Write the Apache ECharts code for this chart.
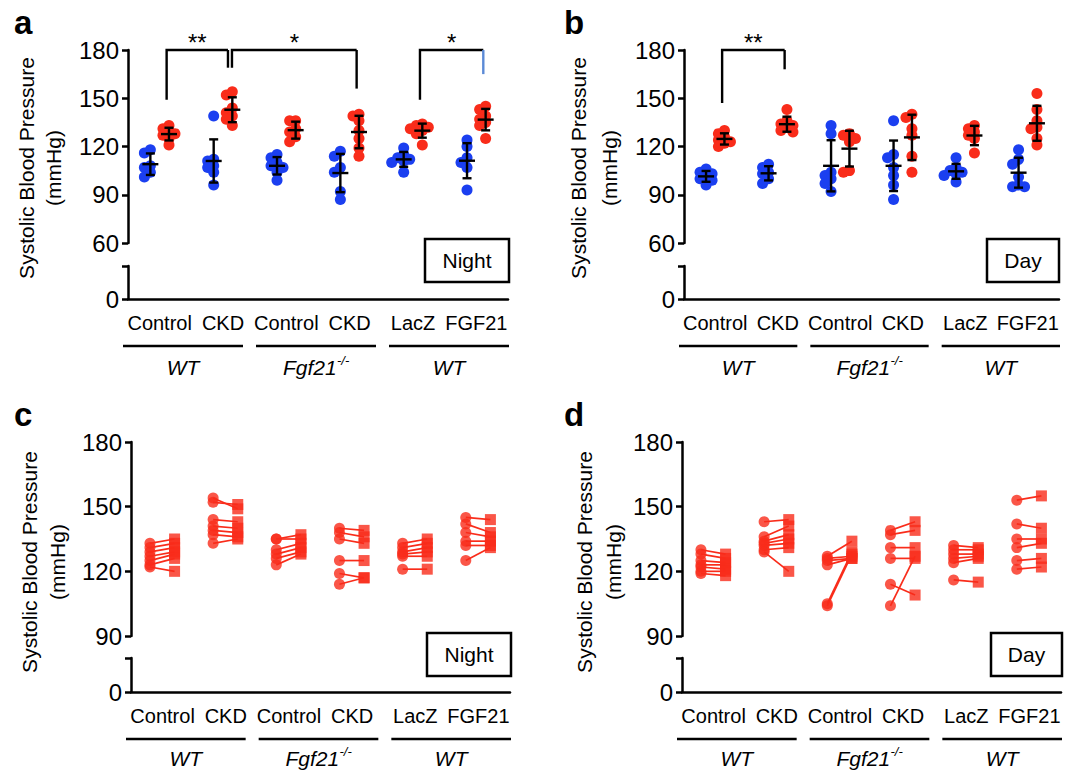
<!DOCTYPE html>
<html>
<head>
<meta charset="utf-8">
<title>Systolic blood pressure</title>
<script src="https://cdn.jsdelivr.net/npm/echarts@6.0.0/dist/echarts.min.js"></script>
<style>
  html, body { margin: 0; padding: 0; background: #fff; }
  #chart { width: 1084px; height: 771px; }
</style>
</head>
<body>
<div id="chart"></div>
<script>
// categories and group labels
const categories = ['Control', 'CKD', 'Control', 'CKD', 'LacZ', 'FGF21'];
const genotypes = ['WT', 'Fgf21', 'WT'];
const yTicksAB = [60, 90, 120, 150, 180];
const yTicksCD = [90, 120, 150, 180];

// panel a (night) - blue / red dots per category
const nightBlue = [
  [118, 116, 108, 107, 104, 101],
  [139, 112, 111, 108, 107, 104, 96],
  [115, 113, 110, 108, 107, 104, 99],
  [117, 114, 107, 104, 92, 87],
  [119, 115, 113, 112, 111, 110, 104],
  [124, 120, 113, 110, 107, 93]
];
const nightRed = [
  [133, 131, 129, 128, 127, 125, 121],
  [154, 152, 144, 141, 139, 137, 133],
  [136, 136, 131, 129, 126, 123],
  [140, 139, 136, 130, 125, 119, 114],
  [134, 133, 132, 131, 130, 128, 121],
  [145, 143, 139, 137, 135, 133, 125]
];

// panel b (day)
const dayBlue = [
  [106, 104, 103, 102, 100, 99, 96],
  [109, 107, 104, 103, 100, 97],
  [133, 128, 104, 102, 100, 97, 92],
  [136, 115, 113, 107, 102, 96, 87],
  [113, 107, 105, 104, 103, 102, 98],
  [118, 112, 109, 101, 96, 95, 95]
];
const dayRed = [
  [130, 128, 126, 124, 123, 122, 120],
  [143, 136, 134, 133, 132, 130, 129],
  [128, 127, 125, 123, 105, 104],
  [140, 138, 131, 127, 114, 104],
  [133, 131, 129, 127, 125, 116],
  [153, 143, 136, 132, 131, 125, 121]
];

// panel c (night) - paired values, circle -> square
const nightBefore = [
  [133, 131, 129, 127, 125, 123, 122],
  [154, 152, 144, 141, 139, 137, 133],
  [135, 135, 130, 128, 126, 123],
  [140, 138, 135, 125, 119, 114],
  [133, 131, 129, 128, 127, 121],
  [145, 142, 138, 134, 132, 125]
];
const nightAfter = [
  [135, 133, 131, 129, 128, 126, 120],
  [149, 151, 143, 140, 138, 136, 135],
  [137, 135, 133, 131, 129, 128],
  [139, 136, 133, 125, 117, 117],
  [135, 133, 131, 129, 127, 121],
  [144, 138, 136, 134, 132, 131]
];

// panel d (day)
const dayBefore = [
  [130, 128, 125, 123, 122, 120, 119],
  [143, 136, 134, 133, 132, 130, 129],
  [127, 126, 125, 123, 105, 104],
  [139, 137, 131, 126, 114, 104],
  [132, 130, 128, 126, 124, 116],
  [153, 142, 135, 131, 125, 121]
];
const dayAfter = [
  [128, 126, 124, 123, 121, 120, 118],
  [144, 141, 137, 135, 133, 131, 120],
  [134, 127, 126, 126, 129, 128],
  [143, 139, 131, 126, 109, 127],
  [131, 130, 128, 127, 126, 115],
  [155, 140, 135, 133, 126, 122]
];

// significance brackets (category index from/to, label, leg ends in mmHg)
const sigNight = [
  { from: 0, to: 1, text: '**', ends: [149, 169], dx: [0, -2] },
  { from: 1, to: 3, text: '*', ends: [169, 156], dx: [2, 0] },
  { from: 4, to: 5, text: '*', ends: [149, 165], dx: [0, 0], rightColor: '#5b8ad6' }
];
const sigDay = [
  { from: 0, to: 1, text: '**', ends: [147, 168], dx: [0, 0] }
];

const FONT = '"Liberation Sans", Arial, Helvetica, sans-serif';
const RED = '#f92c1a';
const BLUE = '#1b3ff0';
const BLACK = '#000';

const panels = [
  { id: 'a', kind: 'dots', mode: 'Night', blue: nightBlue, red: nightRed, sig: sigNight, ticks: yTicksAB,
    left: 128, right: 508, top: 50, bottom: 243, lowTop: 266, base: 299,
    tagX: 14, tagY: 22, nameX: [26, 53], nameY: 168, box: [425, 239, 84, 43], lineY: 346, groupY: 367 },
  { id: 'b', kind: 'dots', mode: 'Day', blue: dayBlue, red: dayRed, sig: sigDay, ticks: yTicksAB,
    left: 684, right: 1059, top: 50, bottom: 243, lowTop: 266, base: 299,
    tagX: 564, tagY: 22, nameX: [578, 609], nameY: 168, box: [987, 239, 72, 43], lineY: 346, groupY: 367 },
  { id: 'c', kind: 'pairs', mode: 'Night', before: nightBefore, after: nightAfter, ticks: yTicksCD,
    left: 131, right: 510, top: 442, bottom: 636, lowTop: 658, base: 692,
    tagX: 14, tagY: 414, nameX: [29, 57], nameY: 562, box: [427, 633, 84, 43], lineY: 739, groupY: 758 },
  { id: 'd', kind: 'pairs', mode: 'Day', before: dayBefore, after: dayAfter, ticks: yTicksCD,
    left: 682, right: 1061, top: 442, bottom: 636, lowTop: 658, base: 692,
    tagX: 564, tagY: 414, nameX: [584, 613], nameY: 562, box: [991, 633, 71, 43], lineY: 739, groupY: 758 }
];

const grid = [], xAxis = [], yAxis = [], series = [], graphic = [];

function meanSd(vals) {
  const m = vals.reduce((s, v) => s + v, 0) / vals.length;
  const sd = Math.sqrt(vals.reduce((s, v) => s + (v - m) * (v - m), 0) / (vals.length - 1));
  return [m, sd];
}

// simple beeswarm: nudge dots sideways (px) when they would overlap too much
function swarm(vals, cx, cw, ky) {
  const step = 6, minDist = 6;
  const placed = [];
  vals.forEach(v => {
    let off = 0;
    for (let k = 0; k < 14; k++) {
      const cand = k === 0 ? 0 : (k % 2 ? -1 : 1) * Math.ceil(k / 2) * step;
      const ok = placed.every(p => Math.hypot(p.off - cand, (p.v - v) * ky) >= minDist);
      if (ok) { off = cand; break; }
    }
    placed.push({ v, off });
  });
  return placed.map(p => [cx + p.off / cw, p.v]);
}

const lineStyle = { color: BLACK, width: 2.5 };

function errorBarItem(params, api) {
  const x = api.value(0), m = api.value(1), s = api.value(2);
  const c = api.coord([x, m]);
  const yt = api.coord([x, m + s])[1], yb = api.coord([x, m - s])[1];
  const st = { stroke: BLACK, lineWidth: 2.4 };
  return {
    type: 'group', children: [
      { type: 'line', shape: { x1: c[0], y1: yt, x2: c[0], y2: yb }, style: st },
      { type: 'line', shape: { x1: c[0] - 4.5, y1: yt, x2: c[0] + 4.5, y2: yt }, style: st },
      { type: 'line', shape: { x1: c[0] - 4.5, y1: yb, x2: c[0] + 4.5, y2: yb }, style: st },
      { type: 'line', shape: { x1: c[0] - 8, y1: c[1], x2: c[0] + 8, y2: c[1] }, style: st }
    ]
  };
}

function bracketItem(sig, topValue) {
  return function (params, api) {
    const b = sig[params.dataIndex];
    const xl = api.coord([api.value(0), b.ends[0]]);
    const xr = api.coord([api.value(1), b.ends[1]]);
    const yTop = api.coord([0, topValue])[1];
    const x1 = xl[0] + b.dx[0], x2 = xr[0] + b.dx[1];
    const st = { stroke: BLACK, lineWidth: 2.4, fill: null };
    return {
      type: 'group', children: [
        { type: 'polyline', shape: { points: [[x1, xl[1]], [x1, yTop], [x2, yTop]] }, style: st },
        { type: 'line', shape: { x1: x2, y1: yTop, x2: x2, y2: xr[1] },
          style: { stroke: b.rightColor || BLACK, lineWidth: 2.4 } },
        { type: 'text', x: (x1 + x2) / 2, y: yTop - 8,
          style: { text: b.text, font: '24px ' + FONT, fill: BLACK, textAlign: 'center', textVerticalAlign: 'middle' } }
      ]
    };
  };
}

function pairLineItem(params, api) {
  const p0 = api.coord([api.value(0), api.value(1)]);
  const p1 = api.coord([api.value(2), api.value(3)]);
  return { type: 'line', shape: { x1: p0[0], y1: p0[1], x2: p1[0], y2: p1[1] },
    style: { stroke: RED, lineWidth: 1.7 } };
}

panels.forEach(p => {
  const gi = grid.length;
  const width = p.right - p.left;
  const cw = width / categories.length;
  const yMin = p.ticks[0], yMax = p.ticks[p.ticks.length - 1];
  const ky = (p.bottom - p.top) / (yMax - yMin);

  grid.push({ left: p.left, top: p.top, width: width, height: p.bottom - p.top, outerBoundsMode: 'none' });
  grid.push({ left: p.left, top: p.lowTop, width: width, height: p.base - p.lowTop, outerBoundsMode: 'none' });

  const xi = xAxis.length, yi = yAxis.length;
  xAxis.push({ type: 'value', gridIndex: gi, min: 0, max: categories.length, show: false });
  xAxis.push({
    type: 'category', gridIndex: gi + 1, data: categories, boundaryGap: true,
    axisLine: { lineStyle: lineStyle },
    axisTick: { alignWithLabel: true, length: 6, lineStyle: lineStyle },
    axisLabel: { interval: 0, color: BLACK, fontSize: 20, fontFamily: FONT, margin: 14, hideOverlap: false },
    splitLine: { show: false }
  });
  yAxis.push({
    type: 'value', gridIndex: gi, min: yMin, max: yMax, interval: p.ticks[1] - p.ticks[0],
    axisLine: { show: true, lineStyle: lineStyle },
    axisTick: { show: true, length: 6, lineStyle: lineStyle },
    axisLabel: { color: BLACK, fontSize: 24, fontFamily: FONT, margin: 9 },
    splitLine: { show: false }
  });
  yAxis.push({
    type: 'value', gridIndex: gi + 1, min: 0, max: 20, interval: 20,
    axisLine: { show: true, lineStyle: lineStyle },
    axisTick: { show: true, length: 6, lineStyle: lineStyle },
    axisLabel: { color: BLACK, fontSize: 24, fontFamily: FONT, margin: 9, formatter: v => (v === 0 ? '0' : '') },
    splitLine: { show: false }
  });

  const ax = { xAxisIndex: xi, yAxisIndex: yi, silent: true };

  if (p.kind === 'dots') {
    const groups = [['blue', -0.147, BLUE], ['red', 0.147, RED]];
    groups.forEach(([key, side, color]) => {
      const pts = [], bars = [];
      p[key].forEach((vals, i) => {
        const cx = i + 0.5 + side;
        swarm(vals, cx, cw, ky).forEach(d => pts.push(d));
        const [m, sd] = meanSd(vals);
        bars.push([cx, m, sd]);
      });
      series.push(Object.assign({ type: 'scatter', data: pts, symbolSize: 11, itemStyle: { color: color, opacity: 1 }, z: 2 }, ax));
      series.push(Object.assign({ type: 'custom', data: bars, renderItem: errorBarItem, z: 4, clip: false }, ax));
    });
    series.push(Object.assign({
      type: 'custom', z: 5, clip: false,
      data: p.sig.map(s => [s.from + 0.61, s.to + 0.61]),
      renderItem: bracketItem(p.sig, yMax)
    }, ax));
  } else {
    const links = [], circles = [], squares = [];
    p.before.forEach((vals, i) => {
      vals.forEach((v, j) => {
        const a = p.after[i][j];
        links.push([i + 0.3, v, i + 0.69, a]);
        circles.push([i + 0.3, v]);
        squares.push([i + 0.69, a]);
      });
    });
    series.push(Object.assign({ type: 'custom', data: links, renderItem: pairLineItem, z: 1 }, ax));
    series.push(Object.assign({ type: 'scatter', data: circles, symbol: 'circle', symbolSize: 11, itemStyle: { color: RED }, z: 2 }, ax));
    series.push(Object.assign({ type: 'scatter', data: squares, symbol: 'rect', symbolSize: 11, itemStyle: { color: RED }, z: 2 }, ax));
  }

  // panel tag
  graphic.push({ type: 'text', x: p.tagX, y: p.tagY,
    style: { text: p.id, font: 'bold 33px ' + FONT, fill: BLACK, textAlign: 'left', textVerticalAlign: 'middle' } });
  // y axis title, two lines
  graphic.push({ type: 'text', x: p.nameX[0], y: p.nameY, rotation: Math.PI / 2,
    style: { text: 'Systolic Blood Pressure', font: '21px ' + FONT, fill: BLACK, textAlign: 'center', textVerticalAlign: 'middle' } });
  graphic.push({ type: 'text', x: p.nameX[1], y: p.nameY, rotation: Math.PI / 2,
    style: { text: '(mmHg)', font: '21px ' + FONT, fill: BLACK, textAlign: 'center', textVerticalAlign: 'middle' } });
  // Night / Day box
  graphic.push({ type: 'rect', shape: { x: p.box[0], y: p.box[1], width: p.box[2], height: p.box[3] },
    style: { fill: '#fff', stroke: BLACK, lineWidth: 2.5 } });
  graphic.push({ type: 'text', x: p.box[0] + p.box[2] / 2, y: p.box[1] + p.box[3] / 2,
    style: { text: p.mode, font: '21px ' + FONT, fill: BLACK, textAlign: 'center', textVerticalAlign: 'middle' } });
  // genotype underlines and labels
  const gap = 13;
  const span0 = p.left - 5;
  const lineW = (p.right + 1 - span0 - 2 * gap) / 3;
  genotypes.forEach((g, k) => {
    const x1 = span0 + k * (lineW + gap);
    const mid = x1 + lineW / 2;
    graphic.push({ type: 'line', shape: { x1: x1, y1: p.lineY, x2: x1 + lineW, y2: p.lineY },
      style: { stroke: BLACK, lineWidth: 2.5 } });
    if (g === 'Fgf21') {
      graphic.push({ type: 'text', x: mid - 33, y: p.groupY,
        style: { text: 'Fgf21', font: 'italic 21px ' + FONT, fill: BLACK, textAlign: 'left', textVerticalAlign: 'middle' } });
      graphic.push({ type: 'text', x: mid + 21, y: p.groupY - 7,
        style: { text: '-/-', font: 'italic 13px ' + FONT, fill: BLACK, textAlign: 'left', textVerticalAlign: 'middle' } });
    } else {
      graphic.push({ type: 'text', x: mid, y: p.groupY,
        style: { text: g, font: 'italic 21px ' + FONT, fill: BLACK, textAlign: 'center', textVerticalAlign: 'middle' } });
    }
  });
});

const chart = echarts.init(document.getElementById('chart'), null, { renderer: 'svg' });
chart.setOption({
  animation: false,
  backgroundColor: '#fff',
  textStyle: { fontFamily: FONT },
  grid: grid,
  xAxis: xAxis,
  yAxis: yAxis,
  series: series,
  graphic: graphic
});
</script>
</body>
</html>
